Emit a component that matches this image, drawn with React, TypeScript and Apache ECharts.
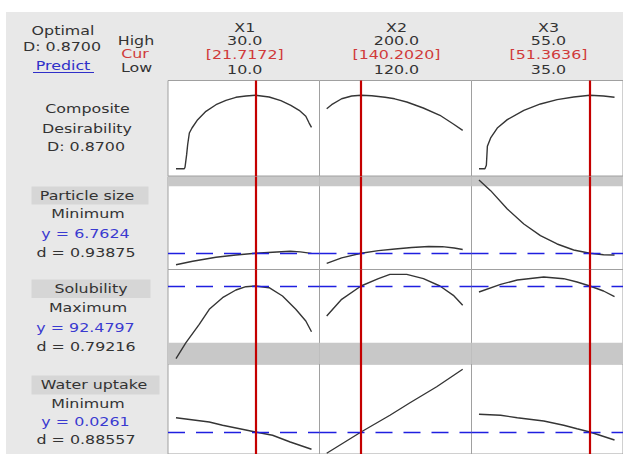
import React, { useEffect, useRef } from "react";
import * as echarts from "echarts";

// ---------------- data ----------------
const factorNames = ["X1", "X2", "X3"];
const factorHigh = [30.0, 200.0, 55.0];
const factorCur = [21.7172, 140.202, 51.3636];
const factorLow = [10.0, 120.0, 35.0];

const responseNames = ["Particle size", "Solubility", "Water uptake"];
const responseGoals = ["Minimum", "Maximum", "Minimum"];
const responsePredicted = [6.7624, 92.4797, 0.0261];
const responseD = [0.93875, 0.79216, 0.88557];
const compositeD = 0.87;

// undesirable zones (grey bands)
const particleUpperBound = 12.0;
const solubilityLowerBound = 80.0;

// Composite desirability vs factors
const compositeVsX1: number[][] = [
  [10, 0], [11.22, 0], [11.33, 0.017], [11.57, 0.166], [11.72, 0.284], [11.97, 0.423],
  [12.36, 0.482], [13.2, 0.581], [14.42, 0.68], [15.9, 0.758], [17.37, 0.81],
  [18.84, 0.846], [20.32, 0.861], [21.72, 0.87], [23.75, 0.85], [25.48, 0.806],
  [26.95, 0.751], [28.18, 0.692], [29.16, 0.621], [29.65, 0.541], [30, 0.49],
];
const compositeVsX2: number[][] = [
  [120, 0.711], [122.9, 0.758], [128.8, 0.829], [134.7, 0.861], [140.2, 0.87],
  [146.5, 0.865], [154.3, 0.846], [160, 0.828], [167.1, 0.79], [176.8, 0.719],
  [186.6, 0.633], [194.5, 0.53], [200, 0.455],
];
const compositeVsX3: number[][] = [
  [35, 0], [35.88, 0], [36.09, 0.04], [36.24, 0.265], [36.72, 0.364], [37.7, 0.482],
  [39.18, 0.581], [41.62, 0.692], [44.07, 0.767], [46.53, 0.818], [48.97, 0.85],
  [51.36, 0.87], [53.38, 0.861], [55, 0.846],
];

// Particle size vs factors
const particleVsX1: number[][] = [
  [10, 5.87], [12.46, 6.14], [15.9, 6.45], [18.84, 6.63], [21.72, 6.762],
  [24.9, 6.86], [26.86, 6.92], [28.34, 6.87], [30, 6.76],
];
const particleVsX2: number[][] = [
  [120, 5.98], [128.8, 6.4], [140.2, 6.762], [150.4, 6.97], [160.2, 7.1],
  [170, 7.22], [180, 7.29], [188, 7.28], [195, 7.18], [200, 7.06],
];
const particleVsX3: number[][] = [
  [35, 12.49], [36.72, 11.66], [39.18, 10.23], [41.62, 9.05], [44.07, 8.14],
  [46.53, 7.49], [48.97, 7.02], [51.36, 6.762], [53.38, 6.65], [55, 6.63],
];

// Solubility vs factors
const solubilityVsX1: number[][] = [
  [10, 76.48], [11.47, 80.0], [13.43, 84.05], [14.91, 87.35], [16.87, 89.9],
  [18.84, 91.6], [20.31, 92.33], [21.72, 92.48], [23.75, 92.11], [25.72, 90.28],
  [27.68, 87.35], [29.16, 84.78], [30, 82.4],
];
const solubilityVsX2: number[][] = [
  [120, 85.88], [128.8, 89.55], [140.2, 92.48], [150.4, 94.09], [157.2, 95.05],
  [167.1, 95.05], [176.9, 94.09], [186.6, 92.48], [194.5, 90.43], [200, 88.23],
];
const solubilityVsX3: number[][] = [
  [35, 91.16], [38.19, 92.85], [40.65, 93.8], [44.56, 94.46], [47.5, 94.09],
  [49.47, 93.36], [51.36, 92.48], [53.38, 91.38], [55, 90.12],
];

// Water uptake vs factors
const waterVsX1: number[][] = [
  [10, 0.0318], [14.91, 0.0301], [16.87, 0.0288], [20.31, 0.0269], [21.72, 0.0261],
  [24.25, 0.0248], [26.86, 0.0221], [30, 0.0192],
];
const waterVsX2: number[][] = [
  [120, 0.0176], [140.2, 0.0261], [157.2, 0.0328], [169, 0.0378], [184.7, 0.0442],
  [200, 0.0512],
];
const waterVsX3: number[][] = [
  [35, 0.0332], [38.19, 0.0328], [40.65, 0.0318], [44.56, 0.0305], [47.5, 0.0288],
  [49.47, 0.0274], [51.36, 0.0261], [55, 0.0229],
];

const curves = [
  [compositeVsX1, compositeVsX2, compositeVsX3],
  [particleVsX1, particleVsX2, particleVsX3],
  [solubilityVsX1, solubilityVsX2, solubilityVsX3],
  [waterVsX1, waterVsX2, waterVsX3],
];

// ---------------- layout ----------------
const colLeft = [168, 319.5, 471.5];
const colWidth = [151.5, 152, 152];
const xAxisMin = [8.819, 115.765, 33.897];
const xAxisMax = [31.181, 205.18, 56.25];

const rowTop = [80.5, 176.5, 269.5, 364];
const rowHeight = [95.5, 93, 94.5, 90];
const yAxisMin = [-0.0865, 5.496, 75.312, 0.0173];
const yAxisMax = [1.045, 12.766, 96.112, 0.0533];

const FONT = '"DejaVu Sans", Verdana, sans-serif';
const SX = 1.22;

function txt(text: string, x: number, y: number, fill = "#333333", size = 13) {
  return {
    type: "text",
    x,
    y,
    scaleX: SX,
    z: 10,
    style: {
      text,
      fill,
      font: `${size}px ${FONT}`,
      fontSize: size,
      fontFamily: FONT,
      align: "center",
      verticalAlign: "middle",
      textAlign: "center",
      textVerticalAlign: "middle",
    },
  };
}

export default function App() {
  const ref = useRef<HTMLDivElement>(null);
  useEffect(() => {
    if (!ref.current) return;
    const chart = echarts.init(ref.current, undefined, { renderer: "svg" });

    const grids: any[] = [];
    const xAxes: any[] = [];
    const yAxes: any[] = [];
    const series: any[] = [];
    for (let r = 0; r < 4; r++) {
      for (let c = 0; c < 3; c++) {
        const i = r * 3 + c;
        grids.push({
          left: colLeft[c],
          top: rowTop[r],
          width: colWidth[c],
          height: rowHeight[r],
          show: true,
          backgroundColor: "#ffffff",
          borderColor: "#a0a0a0",
          borderWidth: 1,
          containLabel: false,
        });
        xAxes.push({ gridIndex: i, type: "value", min: xAxisMin[c], max: xAxisMax[c], show: false });
        yAxes.push({ gridIndex: i, type: "value", min: yAxisMin[r], max: yAxisMax[r], show: false });

        const markLineData: any[] = [];
        if (r > 0) {
          markLineData.push({
            yAxis: responsePredicted[r - 1],
            lineStyle: { color: "#1f1fe0", width: 1.4, type: [17, 11] },
          });
        }
        markLineData.push({
          xAxis: factorCur[c],
          lineStyle: { color: "#c40000", width: 2.2, type: "solid" },
        });

        const areaData: any[] = [];
        if (r === 1) areaData.push([{ yAxis: particleUpperBound }, { yAxis: yAxisMax[r] }]);
        if (r === 2) areaData.push([{ yAxis: yAxisMin[r] }, { yAxis: solubilityLowerBound }]);

        series.push({
          type: "line",
          xAxisIndex: i,
          yAxisIndex: i,
          data: curves[r][c],
          showSymbol: false,
          symbol: "none",
          silent: true,
          lineStyle: { color: "#353535", width: 1.4 },
          markArea: areaData.length
            ? { silent: true, itemStyle: { color: "#c8c8c8" }, data: areaData }
            : undefined,
          markLine: {
            silent: true,
            precision: 8,
            symbol: ["none", "none"],
            label: { show: false },
            data: markLineData,
          },
        });
      }
    }

    const colCenter = colLeft.map((l, i) => l + colWidth[i] / 2 + 1);
    const elements: any[] = [];
    // header
    elements.push(txt("Optimal", 63, 31));
    elements.push(txt(`D: ${compositeD.toFixed(4)}`, 62, 46.5));
    elements.push(txt("Predict", 63, 66, "#2f2fc8"));
    elements.push({
      type: "line",
      z: 10,
      shape: { x1: 33, y1: 72.5, x2: 94, y2: 72.5 },
      style: { stroke: "#2f2fc8", lineWidth: 1 },
    });
    elements.push(txt("High", 136, 40.5));
    elements.push(txt("Cur", 135, 53.5, "#d03a3a"));
    elements.push(txt("Low", 136.5, 67.5));
    for (let c = 0; c < 3; c++) {
      elements.push(txt(factorNames[c], colCenter[c], 27.5));
      elements.push(txt(factorHigh[c].toFixed(1), colCenter[c], 41));
      elements.push(txt(`[${factorCur[c].toFixed(4)}]`, colCenter[c], 54.5, "#d03a3a"));
      elements.push(txt(factorLow[c].toFixed(1), colCenter[c], 69.5));
    }
    // left labels: composite
    elements.push(txt("Composite", 87.5, 109));
    elements.push(txt("Desirability", 87, 128.5));
    elements.push(txt(`D: ${compositeD.toFixed(4)}`, 86, 147));

    const boxes = [
      { x: 31.5, y: 186.5, w: 117, h: 18, tx: 87, ty: 195.5 },
      { x: 31.5, y: 279.5, w: 119, h: 18.5, tx: 91, ty: 288.5 },
      { x: 31.5, y: 375.5, w: 128, h: 19, tx: 94, ty: 385 },
    ];
    const rowY = [
      [214, 233.5, 253],
      [308, 327.5, 346.5],
      [403.5, 421.5, 440],
    ];
    for (let k = 0; k < 3; k++) {
      const b = boxes[k];
      elements.push({
        type: "rect",
        z: 5,
        shape: { x: b.x, y: b.y, width: b.w, height: b.h },
        style: { fill: "#d6d6d6" },
      });
      elements.push(txt(responseNames[k], b.tx, b.ty));
      elements.push(txt(responseGoals[k], 88, rowY[k][0]));
      elements.push(txt(`y = ${responsePredicted[k].toFixed(4)}`, 85.5, rowY[k][1], "#3a3ad0"));
      elements.push(txt(`d = ${responseD[k].toFixed(5)}`, 86, rowY[k][2]));
    }

    chart.setOption({
      animation: false,
      backgroundColor: "transparent",
      grid: grids,
      xAxis: xAxes,
      yAxis: yAxes,
      series,
      graphic: { elements },
    });
    return () => chart.dispose();
  }, []);

  return (
    <div
      style={{
        position: "fixed",
        left: 0,
        top: 0,
        width: 623,
        height: 454,
        background: "#ffffff",
        overflow: "hidden",
      }}
    >
      <div
        style={{
          position: "absolute",
          left: 6,
          top: 12,
          right: 0,
          bottom: 0,
          background: "#e8e8e8",
        }}
      />
      <div ref={ref} style={{ position: "absolute", left: 0, top: 0, width: 623, height: 454 }} />
    </div>
  );
}
